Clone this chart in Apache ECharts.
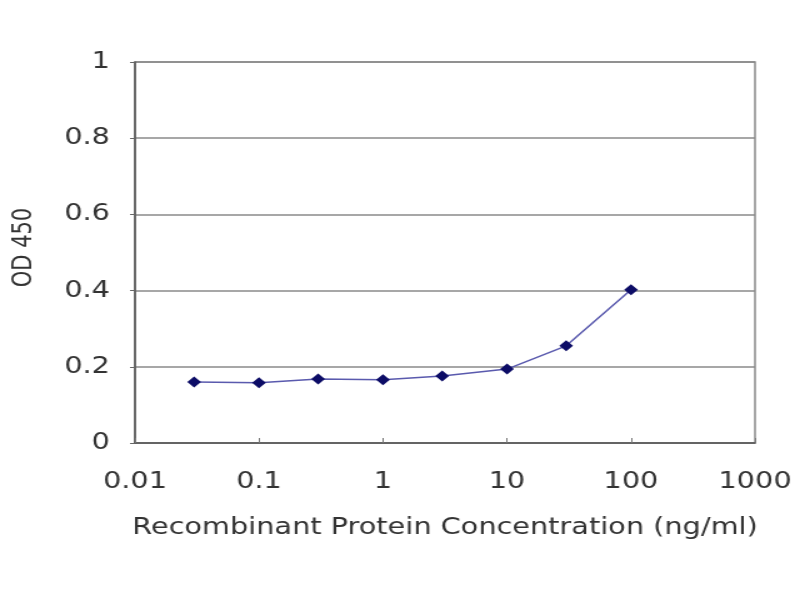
<!DOCTYPE html>
<html lang="en">
<head>
  <meta charset="UTF-8">
  <title>OD 450</title>
  <style>
    html, body { margin: 0; padding: 0; background: #fff; overflow: hidden; }
    /* the source picture is a horizontally stretched Excel chart */
    #main { width: 640px; height: 600px; transform: scaleX(1.25); transform-origin: 0 0; }
  </style>
</head>
<body>
  <div id="main"></div>
  <script src="https://cdn.jsdelivr.net/npm/echarts@6/dist/echarts.min.js"></script>
  <script type="text/javascript">
    // concentration (ng/ml) and OD readings
    var concentrations = [0.03, 0.1, 0.3, 1, 3, 10, 30, 100];
    var odValues = [0.160, 0.158, 0.168, 0.166, 0.176, 0.194, 0.255, 0.402];
    var xTickLabels = ['0.01', '0.1', '1', '10', '100', '1000'];
    var yTickLabels = ['0', '0.2', '0.4', '0.6', '0.8', '1'];

    var myChart = echarts.init(document.getElementById('main'));

    var points = concentrations.map(function (c, i) {
      return [c, odValues[i]];
    });

    var textColor = '#333333';
    var font = 'DejaVu Sans, sans-serif';

    var option = {
      backgroundColor: '#ffffff',
      animation: false,
      grid: {
        left: 108,
        right: 36,
        top: 62,
        bottom: 157,
        containLabel: false,
        show: true,
        borderColor: '#8a8a8a',
        borderWidth: 1.5
      },
      xAxis: {
        type: 'log',
        logBase: 10,
        min: 0.01,
        max: 1000,
        name: 'Recombinant Protein Concentration (ng/ml)',
        nameLocation: 'middle',
        nameGap: 74,
        nameTextStyle: { color: textColor, fontSize: 23, fontFamily: font },
        axisLine: { show: true, lineStyle: { color: '#555', width: 1.5 } },
        axisTick: { show: true, inside: true, length: 5, lineStyle: { color: '#777' } },
        splitLine: { show: false },
        minorTick: { show: false },
        axisLabel: {
          color: textColor,
          fontSize: 23,
          fontFamily: font,
          margin: 28,
          formatter: function (v, i) { return xTickLabels[i]; }
        }
      },
      yAxis: {
        type: 'value',
        min: 0,
        max: 1,
        interval: 0.2,
        name: 'OD 450',
        nameLocation: 'middle',
        nameGap: 78,
        nameRotate: 90,
        nameTextStyle: { color: textColor, fontSize: 21, fontFamily: font, padding: [0, 0, 0, 10] },
        axisLine: { show: true, lineStyle: { color: '#555', width: 1.5 } },
        axisTick: { show: true, inside: false, length: 4, lineStyle: { color: '#666' } },
        splitLine: { show: true, lineStyle: { color: '#8a8a8a', width: 1.5 } },
        axisLabel: {
          color: textColor,
          fontSize: 23,
          fontFamily: font,
          margin: 20,
          formatter: function (v, i) { return yTickLabels[i]; }
        }
      },
      series: [{
        type: 'line',
        data: points,
        symbol: 'diamond',
        symbolSize: 11,
        itemStyle: { color: '#0c0c66' },
        lineStyle: { color: '#5a5aae', width: 1.5 }
      }]
    };

    myChart.setOption(option);
  </script>
</body>
</html>
